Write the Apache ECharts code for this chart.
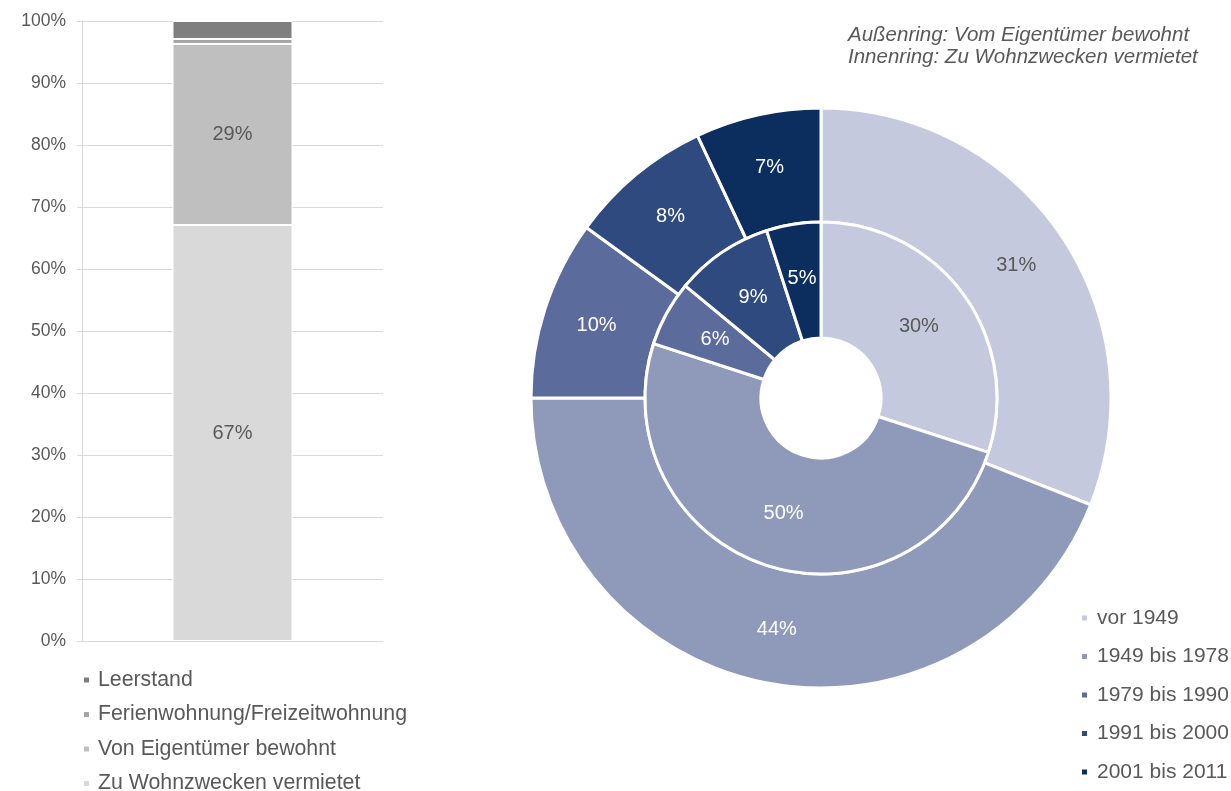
<!DOCTYPE html>
<html>
<head>
    <meta charset="utf-8">
    <script src="https://cdn.jsdelivr.net/npm/echarts@6/dist/echarts.min.js"></script>
    <title>Wohnungen nach Nutzung und Baujahr</title>
    <style>
        html, body { margin: 0; padding: 0; background: #fff; }
        #main { width: 1231px; height: 791px; }
    </style>
</head>
<body>
    <div id="main"></div>

    <script type="text/javascript">
        // Nutzung (gestapelter Balken), von unten nach oben
        var useNames = ['Zu Wohnzwecken vermietet', 'Von Eigentümer bewohnt', 'Ferienwohnung/Freizeitwohnung', 'Leerstand'];
        var useValues = [67.1, 29.2, 0.8, 2.9];
        var useLabels = ['67%', '29%', '', ''];

        // Baujahr (Ringe)
        var periods = ['vor 1949', '1949 bis 1978', '1979 bis 1990', '1991 bis 2000', '2001 bis 2011'];
        var outerValues = [31, 44, 10, 8, 7];   // Vom Eigentümer bewohnt
        var innerValues = [30, 50, 6, 9, 5];    // Zu Wohnzwecken vermietet

        var yTicks = [0, 10, 20, 30, 40, 50, 60, 70, 80, 90, 100];

        var grayColors = ['#d9d9d9', '#bfbfbf', '#a5a5a5', '#7f7f7f'];
        var blueColors = ['#c5c9dd', '#8f9aba', '#5b6b9b', '#2f4a7e', '#0b2e5f'];
        var ringText = ['#595959', '#ffffff', '#ffffff', '#ffffff', '#ffffff'];

        var font = '"Liberation Sans", Arial, sans-serif';
        var myChart = echarts.init(document.getElementById('main'));

        function ringData(values) {
            return values.map(function (v, i) {
                return {
                    name: periods[i],
                    value: v,
                    itemStyle: { color: blueColors[i] },
                    label: { color: ringText[i] }
                };
            });
        }

        var series = useNames.map(function (name, i) {
            return {
                name: name,
                type: 'bar',
                stack: 'nutzung',
                barWidth: 120,
                data: [useValues[i]],
                itemStyle: { color: grayColors[i], borderColor: '#fff', borderWidth: 1 },
                label: {
                    show: useLabels[i] !== '',
                    position: 'inside',
                    formatter: function () { return useLabels[i]; },
                    color: '#595959',
                    fontSize: 20,
                    fontFamily: font
                },
                emphasis: { disabled: true }
            };
        });

        var ringLabel = { position: 'inside', formatter: '{c}%', fontSize: 20, fontFamily: font };

        series.push({
            name: 'Außenring',
            type: 'pie',
            center: [821, 398],
            radius: [176, 290],
            startAngle: 90,
            clockwise: true,
            data: ringData(outerValues),
            itemStyle: { borderColor: '#fff', borderWidth: 3 },
            label: ringLabel,
            labelLine: { show: false },
            emphasis: { disabled: true }
        });
        series.push({
            name: 'Innenring',
            type: 'pie',
            center: [821, 398],
            radius: [60, 176],
            startAngle: 90,
            clockwise: true,
            data: ringData(innerValues),
            itemStyle: { borderColor: '#fff', borderWidth: 3 },
            label: ringLabel,
            labelLine: { show: false },
            emphasis: { disabled: true }
        });

        myChart.setOption({
            animation: false,
            textStyle: { fontFamily: font },
            title: {
                text: 'Außenring: Vom Eigentümer bewohnt\nInnenring: Zu Wohnzwecken vermietet',
                left: 848,
                top: 25,
                padding: 0,
                textStyle: {
                    fontSize: 20.5,
                    fontStyle: 'italic',
                    fontWeight: 'normal',
                    color: '#595959',
                    lineHeight: 21.5,
                    fontFamily: font
                }
            },
            legend: [{
                data: useNames.slice().reverse(),
                orient: 'vertical',
                left: 82,
                top: 669,
                height: 140,
                padding: 0,
                itemWidth: 7,
                itemHeight: 7,
                itemGap: 12.5,
                icon: 'rect',
                selectedMode: false,
                textStyle: { fontSize: 21.3, color: '#595959', lineHeight: 22, padding: [0, 0, 0, 3] }
            }, {
                data: periods,
                orient: 'vertical',
                left: 1080,
                top: 607,
                height: 190,
                padding: 0,
                itemWidth: 7,
                itemHeight: 7,
                itemGap: 16.5,
                icon: 'rect',
                selectedMode: false,
                textStyle: { fontSize: 21, color: '#595959', lineHeight: 22, padding: [0, 0, 0, 4] }
            }],
            grid: { left: 82, right: 848, top: 21, bottom: 150, containLabel: false },
            xAxis: {
                type: 'category',
                data: [''],
                axisLine: { lineStyle: { color: '#d9d9d9', width: 1 } },
                axisTick: { show: false },
                axisLabel: { show: false }
            },
            yAxis: {
                type: 'value',
                min: yTicks[0],
                max: yTicks[yTicks.length - 1],
                interval: 10,
                axisLine: { show: true, lineStyle: { color: '#d9d9d9' } },
                axisTick: { show: true, length: 5, lineStyle: { color: '#d9d9d9' } },
                splitLine: { lineStyle: { color: '#d9d9d9' } },
                axisLabel: { formatter: '{value}%', fontSize: 17.5, color: '#595959', margin: 16 }
            },
            series: series
        });
    </script>
</body>
</html>
